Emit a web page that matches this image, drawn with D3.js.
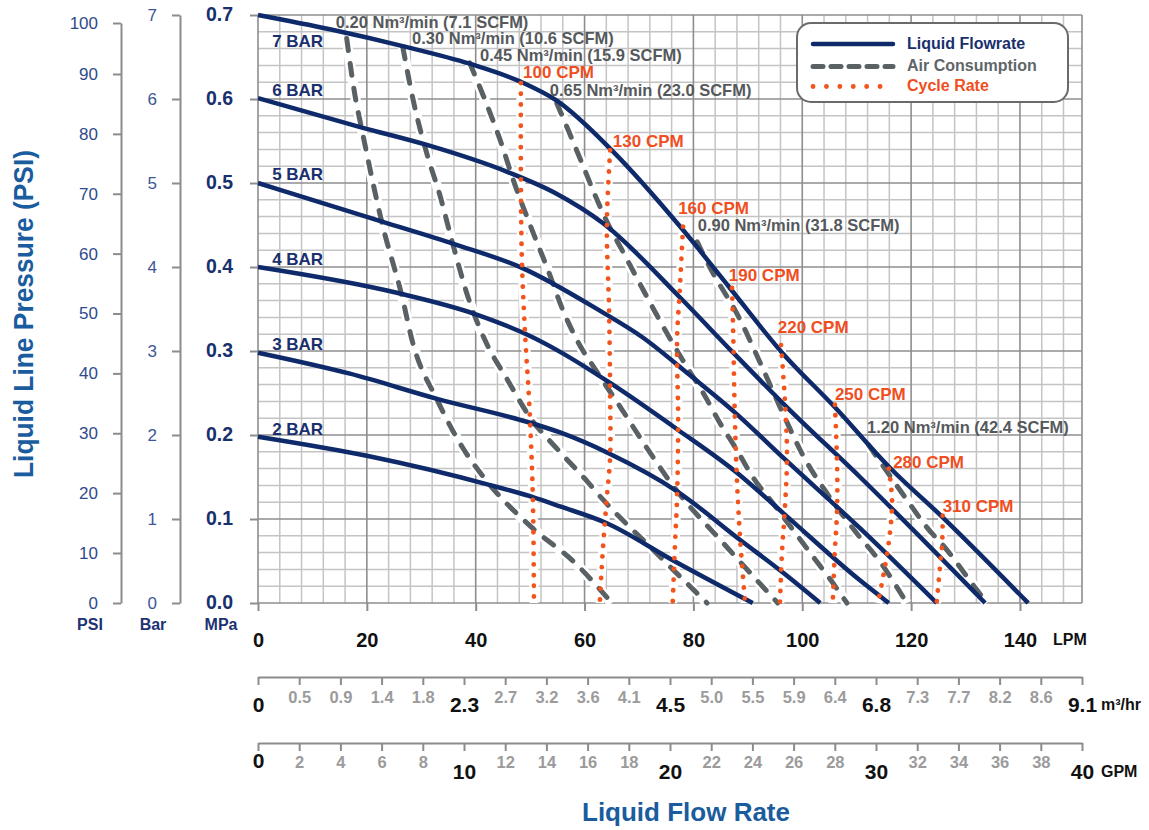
<!DOCTYPE html>
<html><head><meta charset="utf-8">
<script src="https://cdn.jsdelivr.net/npm/d3@7"></script>
<style>
body{margin:0;background:#fff;}
svg{display:block;font-family:"Liberation Sans",Arial,Helvetica,sans-serif;}
</style></head><body>
<svg id="chart" width="1149" height="830"></svg>
<script>
// ---------- tick labels ----------
const LPM_MAX = 151.4; // = 40 GPM
const lpmTicks = [0,20,40,60,80,100,120,140];
const gpmTicks = [0,2,4,6,8,10,12,14,16,18,20,22,24,26,28,30,32,34,36,38,40];
const m3Labels = ["0","0.5","0.9","1.4","1.8","2.3","2.7","3.2","3.6","4.1","4.5","5.0","5.5","5.9","6.4","6.8","7.3","7.7","8.2","8.6","9.1"];
const gpmLabels = ["0","2","4","6","8","10","12","14","16","18","20","22","24","26","28","30","32","34","36","38","40"];
const psiTicks = [0,10,20,30,40,50,60,70,80,90,100];
const barTicks = [0,1,2,3,4,5,6,7];
const mpaTicks = [0,0.1,0.2,0.3,0.4,0.5,0.6,0.7];

// ---------- liquid flowrate curves [LPM, MPa] ----------
const flowNames = ["2 BAR","3 BAR","4 BAR","5 BAR","6 BAR","7 BAR"];
const flow2 = [[0,0.198],[20.2,0.175],[42.3,0.141],[50.5,0.126],[55.5,0.115],[64.1,0.095],[76.2,0.051],[90.9,0]];
const flow3 = [[0,0.298],[16.9,0.273],[32.9,0.243],[50.3,0.214],[55.5,0.203],[64.5,0.178],[77,0.133],[88.6,0.075],[96.5,0.036],[103.3,0]];
const flow4 = [[0,0.400],[25.7,0.369],[39.9,0.344],[49.6,0.319],[55.5,0.299],[64.7,0.262],[77.2,0.206],[88.0,0.155],[96.5,0.107],[110.6,0.027],[115.9,0]];
const flow5 = [[0,0.500],[22.8,0.454],[36.2,0.427],[48.5,0.399],[62.8,0.348],[70.5,0.317],[79.4,0.271],[87.6,0.227],[96.5,0.173],[110.6,0.089],[124.7,0]];
const flow6 = [[0,0.601],[19.1,0.566],[31.2,0.545],[45.9,0.513],[54.6,0.488],[63.4,0.452],[77.5,0.364],[87.3,0.298],[97.2,0.233],[110.6,0.150],[133.6,0]];
const flow7 = [[0,0.700],[13.2,0.683],[26.6,0.663],[38.9,0.642],[48.1,0.621],[54.9,0.598],[64.7,0.541],[78.1,0.444],[86.7,0.375],[96.3,0.298],[106.0,0.233],[116.1,0.161],[125.8,0.102],[141.5,0]];
const flowLabelAt = [[2.6,0.200],[2.6,0.301],[2.6,0.402],[2.6,0.504],[2.6,0.603],[2.6,0.662]];

// ---------- air consumption curves ----------
const airNames = ["0.20 Nm³/min (7.1 SCFM)","0.30 Nm³/min (10.6 SCFM)","0.45 Nm³/min (15.9 SCFM)","0.65 Nm³/min (23.0 SCFM)","0.90 Nm³/min (31.8 SCFM)","1.20 Nm³/min (42.4 SCFM)"];
const air020 = [[16.3,0.672],[17.8,0.605],[19.1,0.563],[22.8,0.452],[26.5,0.364],[28.3,0.313],[32.9,0.242],[37.5,0.186],[42.3,0.143],[50.3,0.090],[58.2,0.048],[65.0,0]];
const air030 = [[26.6,0.662],[28.5,0.599],[31.2,0.531],[33.4,0.486],[35.6,0.432],[38.6,0.364],[41.7,0.313],[45.9,0.265],[50.3,0.218],[54.6,0.186],[60.6,0.144],[63.4,0.123],[72.0,0.067],[82.5,0]];
const air045 = [[38.9,0.643],[41.7,0.599],[44.5,0.551],[47.2,0.498],[50.0,0.450],[53.3,0.396],[56.0,0.349],[58.6,0.313],[62.3,0.275],[66.9,0.230],[71.1,0.188],[76.2,0.140],[85.8,0.069],[95.5,0]];
const air065 = [[54.9,0.595],[57.0,0.563],[59.5,0.524],[61.9,0.486],[64.1,0.454],[66.9,0.420],[70.5,0.376],[74.8,0.325],[78.8,0.281],[81.8,0.250],[84.9,0.214],[88.0,0.182],[90.9,0.150],[94.6,0.119],[98.3,0.087],[102.0,0.055],[105.6,0.024],[108.2,0]];
const air090 = [[80.7,0.430],[83.0,0.400],[88.6,0.337],[92.2,0.287],[97.2,0.215],[100.1,0.176],[104.5,0.131],[110.0,0.083],[114.3,0.049],[119.2,0]];
const air120 = [[112.2,0.188],[119.2,0.123],[122.9,0.090],[126.6,0.063],[130.3,0.031],[133.9,0]];
const airLabelAt = [[14.3,0.6845],[28.3,0.6649],[40.8,0.6452],[53.6,0.6036],[80.8,0.443],[111.9,0.202]];

// ---------- cycle rate curves ----------
const cpmNames = ["100 CPM","130 CPM","160 CPM","190 CPM","220 CPM","250 CPM","280 CPM","310 CPM"];
const cpm100 = [[48.3,0.619],[48.3,0.507],[48.5,0.405],[49.1,0.317],[49.8,0.242],[50.5,0.126],[50.7,0]];
const cpm130 = [[64.7,0.539],[64.1,0.450],[64.5,0.350],[64.7,0.250],[64.7,0.174],[64.1,0.126],[63.4,0.067],[62.8,0]];
const cpm160 = [[78.1,0.448],[77.5,0.373],[77.0,0.313],[77.2,0.218],[77.0,0.126],[76.6,0.067],[76.2,0]];
const cpm190 = [[87.1,0.375],[87.3,0.325],[87.6,0.226],[88.0,0.146],[88.6,0.075],[89.5,0]];
const cpm220 = [[96.1,0.307],[96.8,0.242],[97.2,0.176],[96.8,0.111],[96.3,0.063],[95.9,0]];
const cpm250 = [[106.0,0.236],[106.4,0.164],[106.4,0.111],[106.0,0.063],[105.6,0]];
const cpm280 = [[115.9,0.160],[116.5,0.123],[116.1,0.083],[115.2,0.043],[113.9,0]];
const cpm310 = [[125.8,0.104],[125.7,0.071],[125.3,0.043],[124.7,0]];
const cpmLabelAt = [[48.7,0.625],[65.2,0.543],[77.2,0.463],[86.5,0.383],[95.5,0.321],[106.0,0.242],[116.7,0.161],[125.8,0.108]];

const legendNames = ["Liquid Flowrate","Air Consumption","Cycle Rate"];

// ---------- styling ----------
const NAVY = "#0f2a6a", GRAY = "#596165", ORANGE = "#f2541c";
const NAVY_TXT = "#1a2f6d", GRAY_TXT = "#55595c", ORANGE_TXT = "#f04e1e";
const TITLE = "#1a5c9e", AXIS = "#8c8c8c";

const svg = d3.select("#chart");
const L = 258, R = 1082, T = 15, B = 603;
const x = d3.scaleLinear().domain([0, LPM_MAX]).range([L, R]);
const y = d3.scaleLinear().domain([0, 0.7]).range([B, T]);
const gpm = d3.scaleLinear().domain([0, 40]).range([L, R]);
const barScale = d3.scaleLinear().domain([0, 7]).range([B, T]);
const psiScale = d3.scaleLinear().domain([0,10,90,100]).range([B, 553, 74, 23]);

// ---------- grid ----------
const grid = svg.append("g");
const vMinor = d3.range(0, 38).map(i => i*4).filter(v => v % 20 !== 0);
const vMajor = d3.range(0, 38).map(i => i*4).filter(v => v % 20 === 0).concat([LPM_MAX]);
const hIdx = d3.range(0, 36);
grid.selectAll("line.vmin").data(vMinor).join("line")
  .attr("x1", d=>x(d)).attr("x2", d=>x(d)).attr("y1", y(0)).attr("y2", y(0.7))
  .attr("stroke", "#c4c4c4").attr("stroke-width", 1.5);
grid.selectAll("line.hmin").data(hIdx.filter(i=>i%5!==0)).join("line")
  .attr("x1", x(0)).attr("x2", x(LPM_MAX)).attr("y1", i=>y(i*0.02)).attr("y2", i=>y(i*0.02))
  .attr("stroke", "#c4c4c4").attr("stroke-width", 1.5);
grid.selectAll("line.vmaj").data(vMajor).join("line")
  .attr("x1", d=>x(d)).attr("x2", d=>x(d)).attr("y1", y(0)).attr("y2", y(0.7))
  .attr("stroke", "#8e8e8e").attr("stroke-width", 1.6);
grid.selectAll("line.hmaj").data(hIdx.filter(i=>i%5===0)).join("line")
  .attr("x1", x(0)).attr("x2", x(LPM_MAX)).attr("y1", i=>y(i*0.02)).attr("y2", i=>y(i*0.02))
  .attr("stroke", "#8e8e8e").attr("stroke-width", 1.6);

// ---------- curves ----------
const lineX = d3.line().x(d=>x(d[0])).y(d=>y(d[1])).curve(d3.curveMonotoneX);
const lineC = d3.line().x(d=>x(d[0])).y(d=>y(d[1])).curve(d3.curveCatmullRom.alpha(0.5));
const flows = [flow2, flow3, flow4, flow5, flow6, flow7];
const airs = [air020, air030, air045, air065, air090, air120];
const cpms = [cpm100, cpm130, cpm160, cpm190, cpm220, cpm250, cpm280, cpm310];

const curves = svg.append("g");
curves.selectAll("path.airhalo").data(airs).join("path")
  .attr("d", lineX).attr("fill","none").attr("stroke","#fff").attr("stroke-width", 10);
curves.selectAll("path.cpmhalo").data(cpms).join("path")
  .attr("d", lineC).attr("fill","none").attr("stroke","#fff").attr("stroke-width", 9);
curves.selectAll("path.air").data(airs).join("path")
  .attr("d", lineX).attr("fill","none").attr("stroke", GRAY).attr("stroke-width", 5)
  .attr("stroke-linecap","round").attr("stroke-dasharray","12,13");
curves.selectAll("path.flow").data(flows).join("path")
  .attr("d", lineX).attr("fill","none").attr("stroke", NAVY).attr("stroke-width", 4.5);
curves.selectAll("path.cpm").data(cpms).join("path")
  .attr("d", lineC).attr("fill","none").attr("stroke", ORANGE).attr("stroke-width", 4.8)
  .attr("stroke-linecap","round").attr("stroke-dasharray","0.1,10.6");

// ---------- curve labels ----------
const lab = svg.append("g").attr("font-weight","bold");
lab.selectAll("text.f").data(flowNames).join("text")
  .attr("x",(d,i)=>x(flowLabelAt[i][0])).attr("y",(d,i)=>y(flowLabelAt[i][1]))
  .attr("font-size",17).attr("fill", NAVY_TXT).text(d=>d);
lab.selectAll("text.a").data(airNames).join("text")
  .attr("x",(d,i)=>x(airLabelAt[i][0])).attr("y",(d,i)=>y(airLabelAt[i][1]))
  .attr("font-size",16.5).attr("fill", GRAY_TXT).text(d=>d);
lab.selectAll("text.c").data(cpmNames).join("text")
  .attr("x",(d,i)=>x(cpmLabelAt[i][0])).attr("y",(d,i)=>y(cpmLabelAt[i][1]))
  .attr("font-size",17).attr("fill", ORANGE_TXT).text(d=>d);

// ---------- legend ----------
const lg = svg.append("g");
lg.append("rect").attr("x",797).attr("y",23).attr("width",271).attr("height",79).attr("rx",14)
  .attr("fill","#fff").attr("stroke","#6a6a6a").attr("stroke-width",2);
const legStyles = [
  {stroke:NAVY, w:4.5, dash:null, cap:"round", txt:NAVY_TXT},
  {stroke:GRAY, w:5, dash:"10,8", cap:"round", txt:"#5f6569"},
  {stroke:ORANGE, w:4.8, dash:"0.1,13.3", cap:"round", txt:ORANGE_TXT}
];
const legY = [44, 66.5, 86.5];
legendNames.forEach((n,i)=>{
  const s = legStyles[i];
  const ln = lg.append("line").attr("x1",813).attr("x2",893).attr("y1",legY[i]).attr("y2",legY[i])
    .attr("stroke",s.stroke).attr("stroke-width",s.w).attr("stroke-linecap",s.cap);
  if (s.dash) ln.attr("stroke-dasharray", s.dash);
  lg.append("text").attr("x",907).attr("y",legY[i]+4.5).attr("font-size",16).attr("font-weight","bold")
    .attr("fill",s.txt).text(n);
});

// ---------- y axes ----------
function styleAxis(g){
  g.attr("font-family",null).attr("font-size",null);
  g.selectAll(".domain").attr("stroke",AXIS).attr("stroke-width",2);
  g.selectAll(".tick line").attr("stroke",AXIS).attr("stroke-width",2);
}
const gPsi = svg.append("g").attr("transform",`translate(121,0)`)
  .call(d3.axisLeft(psiScale).tickValues(psiTicks).tickSize(8).tickSizeOuter(0).tickPadding(15));
styleAxis(gPsi);
gPsi.selectAll(".tick text").attr("font-size",17).attr("fill","#2f4b8c");

const gBar = svg.append("g").attr("transform",`translate(180,0)`)
  .call(d3.axisLeft(barScale).tickValues(barTicks).tickSize(8).tickSizeOuter(0).tickPadding(15).tickFormat(d3.format("d")));
styleAxis(gBar);
gBar.selectAll(".tick text").attr("font-size",17).attr("fill","#3d5796");

const gMpa = svg.append("g").attr("transform",`translate(${L},0)`)
  .call(d3.axisLeft(y).tickValues(mpaTicks).tickSize(8).tickPadding(17).tickFormat(d3.format(".1f")));
styleAxis(gMpa);
gMpa.select(".domain").remove();
gMpa.selectAll(".tick text").attr("font-size",19.5).attr("font-weight","bold").attr("fill","#18306b").attr("dy","0.28em");

const unitG = svg.append("g").attr("font-size",16).attr("font-weight","bold").attr("fill","#1d3273").attr("text-anchor","middle");
unitG.append("text").attr("x",90).attr("y",630).text("PSI");
unitG.append("text").attr("x",153).attr("y",630).text("Bar");
unitG.append("text").attr("x",221).attr("y",630).text("MPa");

// ---------- x axes ----------
const gLpm = svg.append("g").attr("transform",`translate(0,${B})`)
  .call(d3.axisBottom(x).tickValues(lpmTicks).tickSize(8).tickSizeOuter(0));
styleAxis(gLpm);
gLpm.select(".domain").remove();
gLpm.selectAll(".tick text").attr("y",44).attr("dy",null).attr("font-size",20).attr("font-weight","bold").attr("fill","#111");

const gM3 = svg.append("g").attr("transform","translate(0,677)")
  .call(d3.axisBottom(gpm).tickValues(gpmTicks).tickSize(8).tickSizeOuter(0).tickFormat((d,i)=>m3Labels[i]));
styleAxis(gM3);
gM3.selectAll(".tick text").attr("dy",null).attr("font-weight","bold")
  .attr("font-size",(d,i)=> i%5===0 ? 21 : 16.5)
  .attr("fill",(d,i)=> i%5===0 ? "#111" : "#9b9b9b")
  .attr("y",(d,i)=> i%5===0 ? 35 : 26);

const gGpm = svg.append("g").attr("transform","translate(0,743)")
  .call(d3.axisBottom(gpm).tickValues(gpmTicks).tickSize(8).tickSizeOuter(0).tickFormat((d,i)=>gpmLabels[i]));
styleAxis(gGpm);
gGpm.selectAll(".tick text").attr("dy",null).attr("font-weight","bold")
  .attr("font-size",(d,i)=> i%5===0 ? 21 : 16.5)
  .attr("fill",(d,i)=> i%5===0 ? "#111" : "#9b9b9b")
  .attr("y",(d,i)=> (i%5===0 && i>0) ? 36 : 25);

const xu = svg.append("g").attr("font-weight","bold").attr("fill","#111").attr("font-size",16);
xu.append("text").attr("x",1053).attr("y",645).text("LPM");
xu.append("text").attr("x",1101).attr("y",710).text("m³/hr");
xu.append("text").attr("x",1101).attr("y",777).text("GPM");

// ---------- titles ----------
svg.append("text").attr("transform","translate(33,314) rotate(-90)").attr("text-anchor","middle")
  .attr("font-size",27).attr("font-weight","bold").attr("fill",TITLE)
  .attr("textLength",328).attr("lengthAdjust","spacingAndGlyphs")
  .text("Liquid Line Pressure (PSI)");
svg.append("text").attr("x",686).attr("y",821).attr("text-anchor","middle")
  .attr("font-size",26).attr("font-weight","bold").attr("fill",TITLE)
  .text("Liquid Flow Rate");
</script>
</body></html>
